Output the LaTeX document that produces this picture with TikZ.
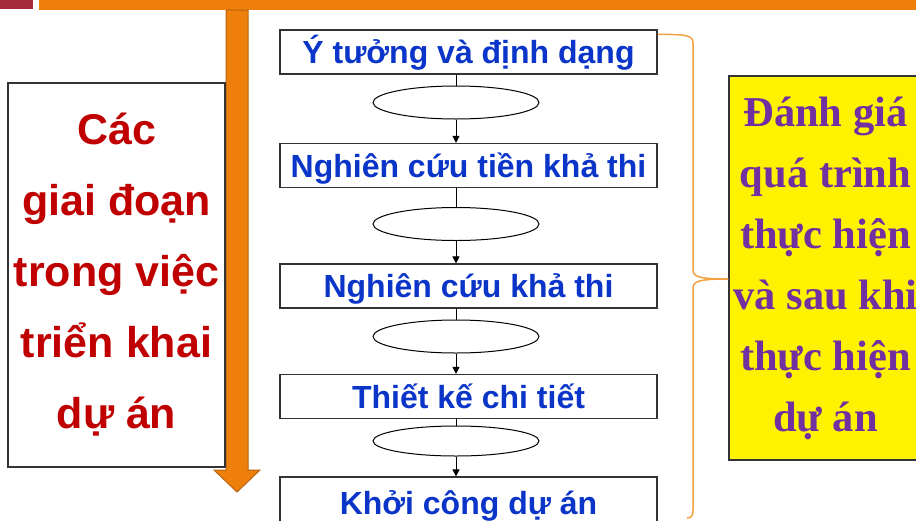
\documentclass[tikz,border=0pt]{standalone}
\usepackage{fontspec}
\setmainfont{Liberation Serif}
\newfontfamily\arialf{Liberation Sans}
\usetikzlibrary{shapes.geometric,arrows.meta}
\definecolor{barorange}{HTML}{EE7F0A}
\definecolor{arrowedge}{HTML}{B8640F}
\definecolor{darkred}{HTML}{A52A3A}
\definecolor{boxblue}{HTML}{0A35C8}
\definecolor{leftred}{HTML}{C00000}
\definecolor{bracecol}{HTML}{F4A040}
\definecolor{purp}{HTML}{7030A0}
\definecolor{edge}{HTML}{333333}
\tikzset{
  flowbox/.style={draw=edge, line width=1.2pt, minimum width=377pt, minimum height=44pt, inner sep=0pt,
    font=\arialf\bfseries\fontsize{32}{32}\selectfont, text=boxblue, text height=23pt, text depth=0pt},
  oval/.style={ellipse, draw=black, line width=1pt, minimum width=166pt, minimum height=33pt, inner sep=0pt},
  conn/.style={draw=black, line width=1pt},
  connarrow/.style={conn, -{Triangle[length=7pt,width=7pt]}},
}
\begin{document}
\begin{tikzpicture}[x=1pt,y=-1pt]
\clip (0,0) rectangle (916,520);
\useasboundingbox (0,0) rectangle (916,520);
\fill[white] (0,0) rectangle (916,520);
% top bar
\fill[darkred] (0,0) rectangle (33,9);
\fill[barorange] (39,0) rectangle (916,10);
% big down arrow
\filldraw[fill=barorange, draw=arrowedge, line width=1pt]
  (226,10) -- (248,10) -- (248,470) -- (260,470) -- (237,492) -- (214,470) -- (226,470) -- cycle;
% left box
\node[draw=edge, line width=1.2pt, minimum width=217pt, minimum height=384pt, inner sep=0pt,
  align=center, text=leftred, font=\arialf\bfseries\fontsize{43}{71}\selectfont]
  (left) at (116.5,275) {Các\\giai đoạn\\trong việc\\triển khai\\dự án};
% flow boxes
\node[flowbox] (b1) at (468.5,52) {Ý tưởng và định dạng};
\node[flowbox] (b2) at (468.5,165.5) {Nghiên cứu tiền khả thi};
\node[flowbox] (b3) at (468.5,286) {Nghiên cứu khả thi};
\node[flowbox] (b4) at (468.5,396.5) {Thiết kế chi tiết};
\node[flowbox, minimum height=52pt] (b5) at (468.5,503) {Khởi công dự án};
% ellipses
\node[oval] (e1) at (456,102.5) {};
\node[oval] (e2) at (456,224) {};
\node[oval] (e3) at (456,336.5) {};
\node[oval, minimum height=30pt] (e4) at (456,441) {};
% connectors
\foreach \a/\e/\b in {b1/e1/b2, b2/e2/b3, b3/e3/b4, b4/e4/b5} {
  \draw[conn] (\a.south -| \e.north) -- (\e.north);
  \draw[connarrow] (\e.south) -- (\e.south |- \b.north);
}
% right box
\node[draw=edge, line width=1.2pt, fill=yellow, minimum width=193pt, minimum height=384pt, inner sep=0pt,
  align=center, text=purp, font=\bfseries\fontsize{42.5}{61}\selectfont]
  (right) at (825.5,268) {Đánh giá\\quá trình\\thực hiện\\và sau khi\\thực hiện\\dự án};
% brace
\coordinate (tip) at (right.west |- 0,279);
\draw[bracecol, line width=1.5pt]
  (b1.north east) ++(0,5) .. controls +(28,0) and (693,35) .. (693,43)
  -- (693,270) .. controls (693,277) and (700,279) .. (tip)
  .. controls (700,279) and (693,281) .. (693,288)
  -- (693,510) .. controls (693,516) and (691,518) .. (687,518);
\end{tikzpicture}
\end{document}
